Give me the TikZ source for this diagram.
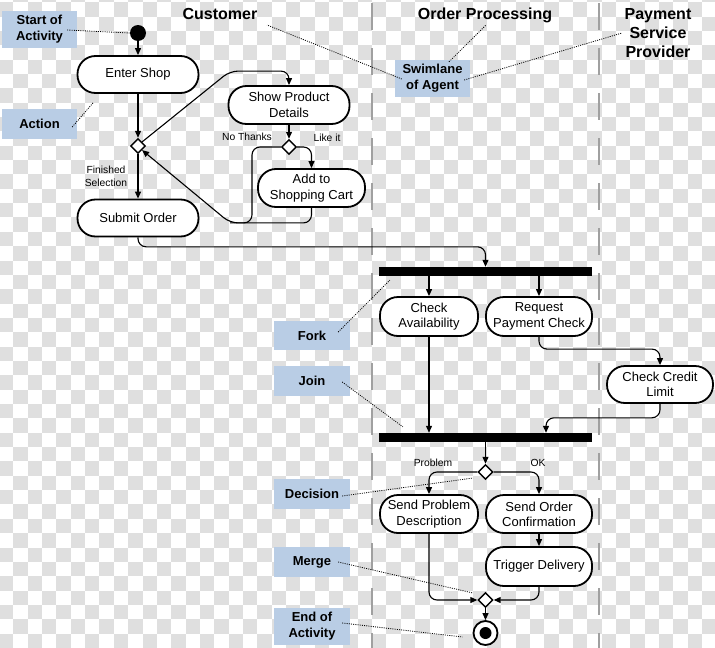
\documentclass[tikz,border=0pt]{standalone}
\usepackage{fontspec}
\setmainfont{Liberation Sans}
\usetikzlibrary{positioning, shapes.geometric, arrows.meta, calc}

\definecolor{notebg}{HTML}{B9CDE5}
\definecolor{checker}{HTML}{DFDFDF}
\definecolor{lanegray}{HTML}{A0A0A0}

\tikzset{
  activity/.style={rectangle, rounded corners=18pt, draw, line width=1.8pt, fill=white,
    align=center, inner xsep=2pt, font=\fontsize{13}{15.3}\selectfont},
  choice/.style={diamond, draw, line width=1.4pt, fill=white, minimum width=15pt,
    minimum height=15pt, inner sep=0pt},
  bar/.style={rectangle, fill=black, minimum width=213pt, minimum height=9pt, inner sep=0pt},
  startnode/.style={circle, fill=black, minimum size=16pt, inner sep=0pt},
  endnode/.style={circle, draw, line width=1.8pt, fill=white, minimum size=24pt, inner sep=0pt,
    path picture={\fill[black] (path picture bounding box.center) circle (6pt);}},
  note/.style={fill=notebg, align=center, inner sep=0pt, font=\bfseries\fontsize{13}{16}\selectfont},
  guard/.style={align=center, font=\fontsize{10.3}{12.7}\selectfont},
  lanetitle/.style={align=center, font=\bfseries\fontsize{16}{19}\selectfont},
  flow/.style={->, line width=1.1pt, rounded corners=8pt},
  leader/.style={line width=0.8pt, dash pattern=on 1pt off 1.2pt},
  lane/.style={lanegray, line width=2pt, dash pattern=on 27pt off 18pt, dash phase=42pt}
}

\begin{document}
\begin{tikzpicture}[x=1pt, y=-1pt, on grid, node distance=40pt, >={Triangle[length=7pt,width=6pt]}]
   \useasboundingbox (0,0) rectangle (715,648);
   % background
   \begin{scope}
     \clip (0,0) rectangle (715,648);
     \foreach \i in {0,...,49}
       \foreach \j in {-1,...,45}{
         \pgfmathtruncatemacro{\odd}{mod(\i+\j+2,2)}
         \ifnum\odd=0 \fill[checker] (\i*14.35-1, \j*14.35+2.2) rectangle ++(14.35,14.35); \fi
       }
   \end{scope}
   \draw[lane] (372,0) -- (372,648);
   \draw[lane] (599,0) -- (599,648);

   % swimlanes
   \node[lanetitle] (customer) at (220,14) {Customer};
   \node[lanetitle] (order) at (485,15.5) {Order Processing};
   \node[lanetitle] (payment) at (658,33.5) {Payment\\Service\\Provider};

   % customer
   \node[startnode] (start) at (138,33) {};
   \node[activity, minimum width=121pt, minimum height=37pt] (enter) [below=41.5pt of start] {Enter Shop};
   \node[choice] (d1) [below=71.5pt of enter] {};
   \node[activity, minimum width=121pt, minimum height=37pt] (submit) [below=72pt of d1] {Submit Order};
   \node[activity, minimum width=121pt, minimum height=38pt] (show) [below right=30.5pt and 151pt of enter] {Show Product\\Details};
   \node[choice] (d2) [below=42pt of show] {};
   \node[activity, minimum width=107pt, minimum height=38pt] (cart) [below right=41pt and 22.5pt of d2] {Add to\\Shopping Cart};
   \node[guard] (finished) [below left=30.5pt and 32pt of d1] {Finished\\Selection};
   \node[guard] (nothanks) [above left=10pt and 42pt of d2] {No Thanks};
   \node[guard] (likeit) [above right=9pt and 38pt of d2] {Like it};
   \coordinate (back) at ($(cart.south)+(-81.5,15)$);

   % order processing and payment
   \node[bar] (fork) at (485.5,271.5) {};
   \node[activity, minimum width=98pt, minimum height=39pt] (avail) [below left=45pt and 56.5pt of fork] {Check\\Availability};
   \node[activity, minimum width=106pt, minimum height=39pt] (payreq) [below right=45pt and 53.5pt of fork] {Request\\Payment Check};
   \node[activity, minimum width=106pt, minimum height=37pt] (credit) [below right=68pt and 121pt of payreq] {Check Credit\\Limit};
   \node[bar] (join) [below=166pt of fork] {};
   \node[choice] (d3) [below=34.5pt of join] {};
   \node[guard] (problemlbl) [above left=9pt and 52.5pt of d3] {Problem};
   \node[guard] (oklbl) [above right=9pt and 52.5pt of d3] {OK};
   \node[activity, minimum width=98pt, minimum height=38pt] (problem) [below left=42pt and 56.5pt of d3] {Send Problem\\Description};
   \node[activity, minimum width=106pt, minimum height=38pt] (confirm) [below right=42pt and 53.5pt of d3] {Send Order\\Confirmation};
   \node[activity, minimum width=106pt, minimum height=39pt] (deliver) [below=52.5pt of confirm] {Trigger Delivery};
   \node[choice] (merge) [below=128pt of d3] {};
   \node[endnode] (stop) [below=33pt of merge] {};

   % flows
   \draw[flow] (start) -- (enter);
   \draw[flow] (enter) -- (d1);
   \draw[flow] (d1) -- (submit);
   \draw[flow] (d1.north east) -- ($(show.north)+(-59,-14)$) -| (show.north);
   \draw[flow] (show) -- (d2);
   \draw[flow] (d2.east) -| (cart.north);
   \draw[flow] (d2.west) -| ($(back)+(22,0)$) -- (back) -- (d1.south east);
   \draw[line width=1.1pt, rounded corners=8pt] (cart.south) |- (back);
   \draw[flow] (submit.south) |- ($(fork.north)+(0,-20)$) -- (fork.north);
   \draw[flow] (fork.south -| avail) -- (avail);
   \draw[flow] (fork.south -| payreq) -- (payreq);
   \draw[flow] (payreq.south) |- ($(credit.north)+(0,-16)$) -- (credit.north);
   \draw[flow] (credit.south) |- ($(join.north)+(60.5,-15)$) -- ($(join.north)+(60.5,0)$);
   \draw[flow] (avail) -- (avail |- join.north);
   \draw[flow] (join) -- (d3);
   \draw[flow] (d3.west) -| (problem.north);
   \draw[flow] (d3.east) -| (confirm.north);
   \draw[flow] (confirm) -- (deliver);
   \draw[flow] (problem.south) |- (merge.west);
   \draw[flow] (deliver.south) |- (merge.east);
   \draw[flow] (merge) -- (stop);

   % notes
   \node[note, minimum width=75pt, minimum height=37pt] (lblstart) at (39.5,29.5) {Start of\\Activity};
   \node[note, minimum width=75pt, minimum height=30pt] (lblaction) at (39.5,124) {Action};
   \node[note, minimum width=75pt, minimum height=37pt] (lblswim) at (432.5,78.5) {Swimlane\\of Agent};
   \node[note, minimum width=76pt, minimum height=29pt] (lblfork) at (312,335.5) {Fork};
   \node[note, minimum width=76pt, minimum height=30pt] (lbljoin) at (312,381) {Join};
   \node[note, minimum width=76pt, minimum height=30pt] (lbldecision) at (312,494) {Decision};
   \node[note, minimum width=76pt, minimum height=30pt] (lblmerge) at (312,562) {Merge};
   \node[note, minimum width=76pt, minimum height=37pt] (lblend) at (312,626.5) {End of\\Activity};

   \draw[leader] ($(lblstart.east)+(-10,0.5)$) -- (start.west);
   \draw[leader] ($(lblaction.east)+(-5,3)$) -- ($(enter.south)+(-45,9)$);
   \draw[leader] ($(lblswim.west)+(7,0.5)$) -- ($(customer)+(47,11)$);
   \draw[leader] ($(lblswim.north)+(16.5,2)$) -- ($(order)+(1,9.5)$);
   \draw[leader] ($(lblswim.east)+(-6,1.5)$) -- ($(payment)+(-36,-0.5)$);
   \draw[leader] ($(lblfork.east)+(-12,-3.5)$) -- ($(fork.south west)+(11,4)$);
   \draw[leader] ($(lbljoin.east)+(-8,1)$) -- ($(join.north west)+(24,-6)$);
   \draw[leader] ($(lbldecision.east)+(-8,2)$) -- ($(d3)+(-12.5,6)$);
   \draw[leader] ($(lblmerge.east)+(-12,0)$) -- ($(merge)+(-12.5,-7)$);
   \draw[leader] ($(lblend.east)+(-8,-3.5)$) -- ($(stop.west)+(-10,4)$);
\end{tikzpicture}
\end{document}
